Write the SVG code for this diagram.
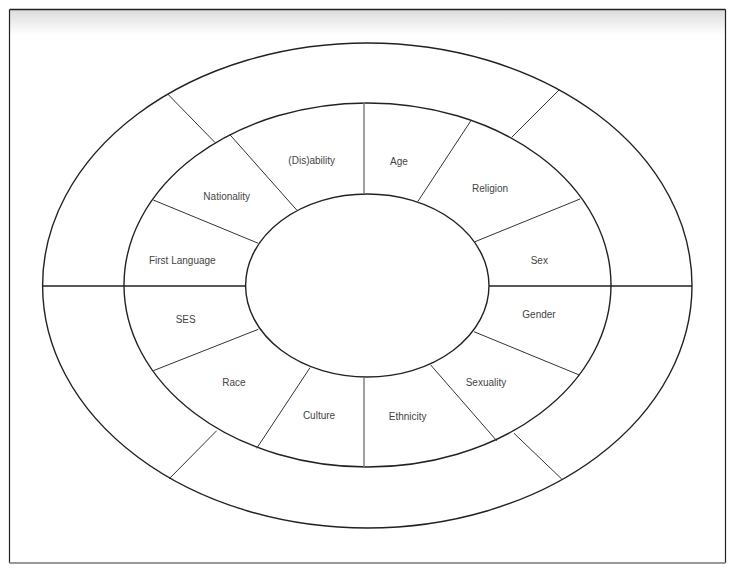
<svg xmlns="http://www.w3.org/2000/svg" width="737" height="572" viewBox="0 0 737 572">
<defs>
<linearGradient id="topShade" x1="0" y1="0" x2="0" y2="1">
<stop offset="0" stop-color="#dcdcdc"/>
<stop offset="1" stop-color="#ffffff"/>
</linearGradient>
</defs>
<style>
.ring{fill:none;stroke:#222;stroke-width:1.4}
.div{stroke:#333;stroke-width:1;fill:none}
.vert{stroke:#777;stroke-width:1.4}
.hor{stroke:#222;stroke-width:1.6}
.lbl{font-family:"Liberation Sans",Arial,sans-serif;font-size:10px;fill:#444;text-anchor:middle}
</style>
<rect x="0" y="0" width="737" height="572" fill="#fff"/>
<rect x="10" y="10" width="715" height="25" fill="url(#topShade)"/>
<g id="frame">
<line x1="9.5" y1="9.5" x2="725.5" y2="9.5" stroke="#222" stroke-width="1.4"/>
<line x1="9.5" y1="9.5" x2="9.5" y2="563" stroke="#222" stroke-width="1.2"/>
<line x1="725.5" y1="9.5" x2="725.5" y2="563" stroke="#222" stroke-width="1.2"/>
<line x1="9.5" y1="563" x2="725.5" y2="563" stroke="#999" stroke-width="2"/>
</g>
<g id="rings">
<ellipse class="ring" cx="367.3" cy="285.5" rx="324.7" ry="242.5"/>
<ellipse class="ring" cx="367.5" cy="285" rx="243.5" ry="182"/>
<ellipse class="ring" cx="367.3" cy="285.5" rx="121.7" ry="91.5"/>
</g>
<g id="connectors">
<line class="hor" x1="42.6" y1="286" x2="245.6" y2="286"/>
<line class="hor" x1="489" y1="286" x2="692" y2="286"/>
<line class="vert" x1="364" y1="103" x2="364" y2="194"/>
<line class="vert" x1="364" y1="377" x2="364" y2="467"/>
<line class="div" x1="296.7" y1="210" x2="230" y2="134.8"/>
<line class="div" x1="215" y1="142.5" x2="167.7" y2="94"/>
<line class="div" x1="258.3" y1="243.3" x2="153.3" y2="200"/>
<line class="div" x1="417.7" y1="201.7" x2="470.7" y2="121"/>
<line class="div" x1="511.7" y1="137.3" x2="559" y2="90"/>
<line class="div" x1="475" y1="241.7" x2="580" y2="199"/>
<line class="div" x1="258.3" y1="329.3" x2="153.3" y2="370.7"/>
<line class="div" x1="310" y1="367.7" x2="256.7" y2="448.3"/>
<line class="div" x1="216.7" y1="430.7" x2="169" y2="479"/>
<line class="div" x1="474" y1="331.7" x2="579.3" y2="375"/>
<line class="div" x1="430.7" y1="365" x2="496.7" y2="440.7"/>
<line class="div" x1="514" y1="433.3" x2="561.7" y2="479"/>
</g>
<g id="node-disability"><text class="lbl" x="311.7" y="164.2">(Dis)ability</text></g>
<g id="node-age"><text class="lbl" x="399" y="164.5">Age</text></g>
<g id="node-nationality"><text class="lbl" x="226.7" y="200.2">Nationality</text></g>
<g id="node-religion"><text class="lbl" x="490" y="192.2">Religion</text></g>
<g id="node-first-language"><text class="lbl" x="182.3" y="264.2">First Language</text></g>
<g id="node-sex"><text class="lbl" x="539.3" y="264.2">Sex</text></g>
<g id="node-ses"><text class="lbl" x="185.7" y="322.8">SES</text></g>
<g id="node-gender"><text class="lbl" x="539" y="317.8">Gender</text></g>
<g id="node-race"><text class="lbl" x="234" y="386.2">Race</text></g>
<g id="node-sexuality"><text class="lbl" x="486" y="386.2">Sexuality</text></g>
<g id="node-culture"><text class="lbl" x="319" y="419.2">Culture</text></g>
<g id="node-ethnicity"><text class="lbl" x="407.7" y="419.5">Ethnicity</text></g>
</svg>
